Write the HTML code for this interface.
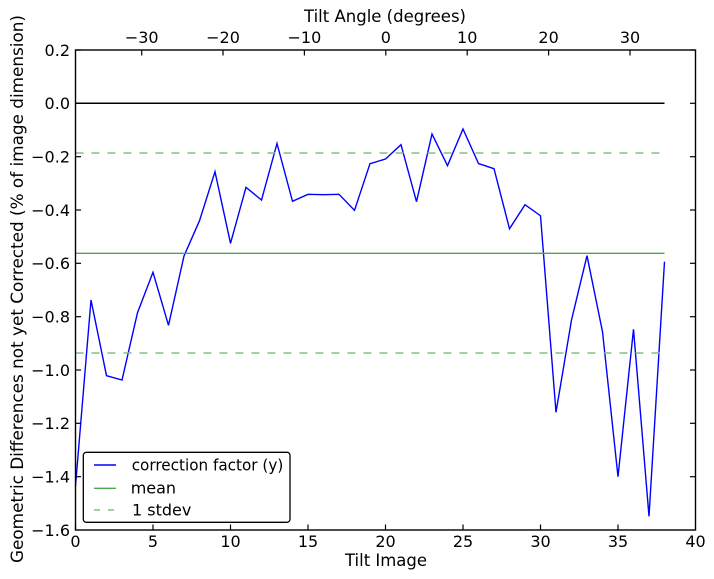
<!DOCTYPE html>
<html><head><meta charset="utf-8"><style>
html,body{margin:0;padding:0;background:#fff;}
svg{display:block;}
text{font-family:"DejaVu Sans","Liberation Sans",sans-serif;font-size:16px;fill:#000;}
</style></head><body>
<svg width="714" height="579" viewBox="0 0 714 579" xmlns="http://www.w3.org/2000/svg">
<rect x="0" y="0" width="714" height="579" fill="#fff"/>
<!-- plot lines -->
<line x1="75.5" y1="103.3" x2="664.5" y2="103.3" stroke="#000" stroke-width="1.5"/>
<polyline fill="none" stroke="#0000ff" stroke-width="1.4" stroke-linejoin="miter" points="75.5,486 91,300 106.5,375.7 122,380 137.5,312.7 153,272.3 168.5,325.3 184,256 199.5,220.7 215,171.7 230.5,243.3 246,187.3 261.5,200 277,143.5 292.5,201.3 308,194.3 323.5,194.7 339,194.3 354.5,210.3 370,163.7 385.5,159 401,144.7 416.5,201.7 432,134 447.5,165.7 463,129 478.5,163.5 494,168.7 509.5,228.8 525,204.7 540.5,215.7 556,412.3 571.5,320 587,255.7 602.5,331.7 618,476.7 633.5,329.3 649,516.3 664.5,261.7"/>
<line x1="75.5" y1="253.3" x2="664.5" y2="253.3" stroke="#4da64d" stroke-width="1.4"/>
<line x1="75.5" y1="153" x2="664.5" y2="153" stroke="#80bf80" stroke-width="1.4" stroke-dasharray="8,8"/>
<line x1="75.5" y1="353" x2="664.5" y2="353" stroke="#80bf80" stroke-width="1.4" stroke-dasharray="8,8"/>
<!-- axes frame -->
<rect x="75.5" y="50" width="620" height="480" fill="none" stroke="#000" stroke-width="1.4"/>
<!-- left/right ticks -->
<g stroke="#000" stroke-width="1.2">
<line x1="75.5" y1="50" x2="81" y2="50"/><line x1="690" y1="50" x2="695.5" y2="50"/>
<line x1="75.5" y1="103.3" x2="81" y2="103.3"/><line x1="690" y1="103.3" x2="695.5" y2="103.3"/>
<line x1="75.5" y1="156.7" x2="81" y2="156.7"/><line x1="690" y1="156.7" x2="695.5" y2="156.7"/>
<line x1="75.5" y1="210" x2="81" y2="210"/><line x1="690" y1="210" x2="695.5" y2="210"/>
<line x1="75.5" y1="263.3" x2="81" y2="263.3"/><line x1="690" y1="263.3" x2="695.5" y2="263.3"/>
<line x1="75.5" y1="316.7" x2="81" y2="316.7"/><line x1="690" y1="316.7" x2="695.5" y2="316.7"/>
<line x1="75.5" y1="370" x2="81" y2="370"/><line x1="690" y1="370" x2="695.5" y2="370"/>
<line x1="75.5" y1="423.3" x2="81" y2="423.3"/><line x1="690" y1="423.3" x2="695.5" y2="423.3"/>
<line x1="75.5" y1="476.7" x2="81" y2="476.7"/><line x1="690" y1="476.7" x2="695.5" y2="476.7"/>
<!-- bottom ticks -->
<line x1="75.5" y1="530" x2="75.5" y2="524.5"/>
<line x1="153" y1="530" x2="153" y2="524.5"/>
<line x1="230.5" y1="530" x2="230.5" y2="524.5"/>
<line x1="308" y1="530" x2="308" y2="524.5"/>
<line x1="385.5" y1="530" x2="385.5" y2="524.5"/>
<line x1="463" y1="530" x2="463" y2="524.5"/>
<line x1="540.5" y1="530" x2="540.5" y2="524.5"/>
<line x1="618" y1="530" x2="618" y2="524.5"/>
<!-- top ticks -->
<line x1="141.7" y1="50" x2="141.7" y2="55.5"/>
<line x1="223" y1="50" x2="223" y2="55.5"/>
<line x1="304.4" y1="50" x2="304.4" y2="55.5"/>
<line x1="385.8" y1="50" x2="385.8" y2="55.5"/>
<line x1="467.2" y1="50" x2="467.2" y2="55.5"/>
<line x1="548.6" y1="50" x2="548.6" y2="55.5"/>
<line x1="630" y1="50" x2="630" y2="55.5"/>
</g>
<!-- y tick labels -->
<g text-anchor="end" style="font-size:16.3px">
<text x="70" y="55.8">0.2</text>
<text x="70" y="109.1">0.0</text>
<text x="70" y="162.5">−0.2</text>
<text x="70" y="215.8">−0.4</text>
<text x="70" y="269.1">−0.6</text>
<text x="70" y="322.5">−0.8</text>
<text x="70" y="375.8">−1.0</text>
<text x="70" y="429.1">−1.2</text>
<text x="70" y="482.5">−1.4</text>
<text x="70" y="535.8">−1.6</text>
</g>
<!-- x tick labels -->
<g text-anchor="middle" style="font-size:16.3px">
<text x="75.5" y="547">0</text>
<text x="153" y="547">5</text>
<text x="230.5" y="547">10</text>
<text x="308" y="547">15</text>
<text x="385.5" y="547">20</text>
<text x="463" y="547">25</text>
<text x="540.5" y="547">30</text>
<text x="618" y="547">35</text>
<text x="695.5" y="547">40</text>
<text x="141.7" y="43">−30</text>
<text x="223" y="43">−20</text>
<text x="304.4" y="43">−10</text>
<text x="385.8" y="43">0</text>
<text x="467.2" y="43">10</text>
<text x="548.6" y="43">20</text>
<text x="630" y="43">30</text>
</g>
<text x="345" y="566" style="font-size:16.4px" textLength="82" lengthAdjust="spacingAndGlyphs">Tilt Image</text>
<text x="304" y="22" style="font-size:16.5px" textLength="162" lengthAdjust="spacingAndGlyphs">Tilt Angle (degrees)</text>
<text transform="translate(23,563) rotate(-90)" style="font-size:16.9px" textLength="548" lengthAdjust="spacingAndGlyphs">Geometric Differences not yet Corrected (% of image dimension)</text>
<!-- legend -->
<rect x="83.3" y="452.3" width="206.7" height="70" rx="3" ry="3" fill="#fff" stroke="#000" stroke-width="1.3"/>
<line x1="94" y1="465" x2="116" y2="465" stroke="#0000ff" stroke-width="1.4"/>
<line x1="94" y1="488.3" x2="116" y2="488.3" stroke="#4da64d" stroke-width="1.4"/>
<line x1="94" y1="510" x2="116" y2="510" stroke="#80bf80" stroke-width="1.4" stroke-dasharray="6,8"/>
<g style="font-size:16px">
<text x="131.7" y="470.5" textLength="151.6" lengthAdjust="spacingAndGlyphs">correction factor (y)</text>
<text x="130.7" y="493.5">mean</text>
<text x="132" y="515.5">1 stdev</text>
</g>
</svg>
</body></html>
